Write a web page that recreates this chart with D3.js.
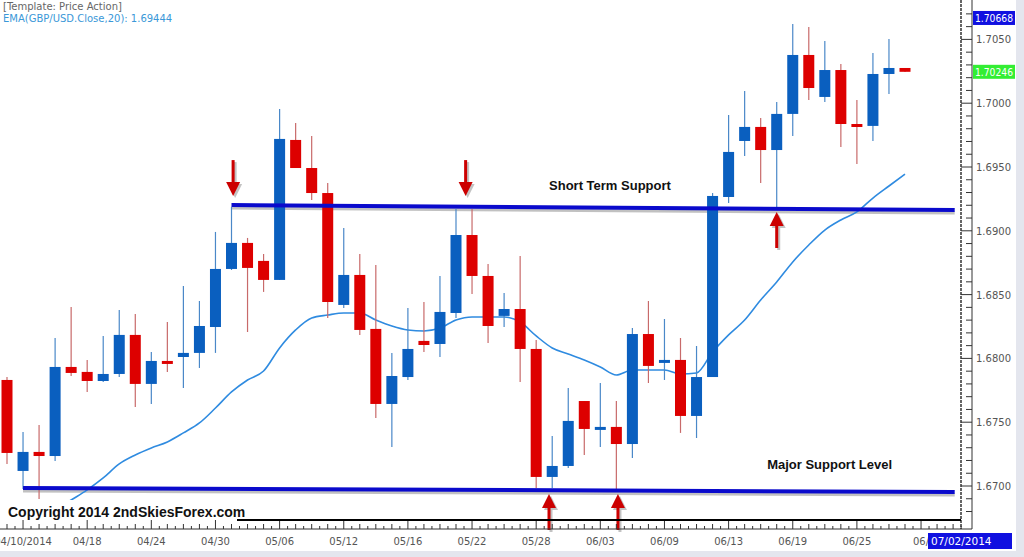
<!DOCTYPE html>
<html><head><meta charset="utf-8">
<script src="https://cdn.jsdelivr.net/npm/d3@7"></script>
<style>body{margin:0;background:#fff}svg{display:block}</style>
</head><body>
<svg id="c" width="1024" height="557"></svg>
<script>
const opens = [1.67831,1.67118,1.67267,1.67235,1.67933,1.67894,1.67823,1.67878,1.68184,1.67800,1.67980,1.68011,1.68043,1.68246,1.68701,1.68905,1.68764,1.68615,1.69712,1.69492,1.69296,1.68419,1.68654,1.68231,1.67643,1.67854,1.68137,1.68113,1.68356,1.68967,1.68646,1.68333,1.68387,1.68074,1.67071,1.67157,1.67666,1.67447,1.67463,1.67329,1.68191,1.67980,1.67988,1.67549,1.67854,1.69265,1.69704,1.69814,1.69633,1.69916,1.70378,1.70049,1.70260,1.69837,1.69822,1.70229,1.70276];
const highs = [1.67854,1.67423,1.67478,1.68160,1.68403,1.67988,1.68176,1.68380,1.68348,1.68050,1.68285,1.68568,1.68450,1.68991,1.69187,1.68944,1.68818,1.69955,1.69845,1.69743,1.69375,1.69022,1.68818,1.68732,1.68043,1.68395,1.68442,1.68646,1.69171,1.69171,1.68740,1.68513,1.68803,1.68144,1.67392,1.67768,1.67666,1.67807,1.67666,1.68238,1.68450,1.68309,1.68160,1.68097,1.69296,1.69908,1.70096,1.69884,1.70010,1.70621,1.70597,1.70488,1.70307,1.70025,1.70394,1.70503,1.70276];
const lows = [1.67173,1.66977,1.66898,1.67196,1.67862,1.67737,1.67815,1.67854,1.67619,1.67643,1.67894,1.67768,1.67925,1.68043,1.68693,1.68207,1.68521,1.68615,1.69492,1.69242,1.68317,1.68395,1.68184,1.67533,1.67306,1.67831,1.68050,1.68011,1.68317,1.68505,1.68121,1.68246,1.67815,1.66985,1.66985,1.67141,1.67243,1.67306,1.66969,1.67220,1.67807,1.67831,1.67416,1.67376,1.67854,1.69218,1.69586,1.69375,1.69187,1.69743,1.70025,1.70010,1.69657,1.69524,1.69704,1.70072,1.70245];
const closes = [1.67259,1.67267,1.67235,1.67933,1.67886,1.67823,1.67878,1.68184,1.67800,1.67980,1.67964,1.68043,1.68254,1.68701,1.68905,1.68709,1.68615,1.69720,1.69492,1.69296,1.68442,1.68654,1.68223,1.67643,1.67862,1.68074,1.68105,1.68364,1.68967,1.68646,1.68254,1.68387,1.68074,1.67071,1.67157,1.67510,1.67447,1.67463,1.67329,1.68191,1.67941,1.67988,1.67549,1.67854,1.69273,1.69618,1.69814,1.69633,1.69916,1.70378,1.70119,1.70260,1.69837,1.69822,1.70229,1.70276,1.70246];
const ema20 = [null,null,null,1.66812,1.66890,1.66969,1.67063,1.67173,1.67243,1.67298,1.67345,1.67416,1.67494,1.67611,1.67737,1.67831,1.67901,1.68082,1.68223,1.68317,1.68340,1.68356,1.68356,1.68301,1.68254,1.68223,1.68215,1.68238,1.68301,1.68325,1.68325,1.68325,1.68285,1.68176,1.68082,1.68035,1.67988,1.67933,1.67870,1.67909,1.67909,1.67909,1.67878,1.67886,1.68050,1.68184,1.68301,1.68458,1.68599,1.68756,1.68889,1.69006,1.69085,1.69148,1.69257,1.69351,1.69444];
const tickLabels = ["04/10/2014","04/18","04/24","04/30","05/06","05/12","05/16","05/22","05/28","06/03","06/09","06/13","06/19","06/25","06/"];
const tickIndex = [1,5,9,13,17,21,25,29,33,37,41,45,49,53,57];
const priceTicks = [1.6700,1.6750,1.6800,1.6850,1.6900,1.6950,1.7000,1.7050];
const highMark = 1.70668;
const supportLines = [{s:14,p1:1.69202,e:59.1,p2:1.69163},{s:1,p1:1.66985,e:59.1,p2:1.66953}];
const downArrows = [{i:14.1,p:1.69225},{i:28.6,p:1.69225}];
const upArrows = [{i:33.8,p:1.66953},{i:38.1,p:1.66953},{i:48,p:1.69163}];
const labels = [{t:"Short Term Support",i:37.6,p:1.69320},{t:"Major Support Level",i:51.3,p:1.67133}];

const svg = d3.select("#c");
const x = d3.scaleLinear().domain([0,56]).range([7,905]);
const y = d3.scaleLinear().domain([1.6700,1.7050]).range([486,39.4]);
const blue="#0a5fbf", red="#dd0000";

svg.append("rect").attr("x",0).attr("y",551).attr("width",1024).attr("height",6).attr("fill","#e4e6ee");
svg.append("rect").attr("x",1016).attr("y",0).attr("width",8).attr("height",557).attr("fill","#e4e6ee");

const plot = svg.append("g");
supportLines.forEach(l=>{
  plot.append("line").attr("x1",x(l.s)).attr("x2",x(l.e)).attr("y1",y(l.p1)+3).attr("y2",y(l.p2)+3)
    .attr("stroke","#999").attr("stroke-width",3).attr("opacity",0.6);
});
plot.append("path").datum(ema20.map((v,i)=>[i,v]).filter(d=>d[1]!==null))
  .attr("d",d3.line().x(d=>x(d[0])).y(d=>y(d[1])).curve(d3.curveMonotoneX))
  .attr("fill","none").attr("stroke","#2f8be0").attr("stroke-width",1.6);
d3.range(opens.length).forEach(i=>{
  const up = closes[i]>=opens[i];
  plot.append("line").attr("x1",x(i)).attr("x2",x(i)).attr("y1",y(highs[i])).attr("y2",y(lows[i]))
    .attr("stroke",up?"#4a88c8":"#c86a6a").attr("stroke-width",1.2);
  const top=y(Math.max(opens[i],closes[i])), bot=y(Math.min(opens[i],closes[i]));
  plot.append("rect").attr("x",x(i)-5.5).attr("width",11).attr("y",top).attr("height",Math.max(bot-top,3)).attr("fill",up?blue:red);
});
supportLines.forEach(l=>{
  plot.append("line").attr("x1",x(l.s)).attr("x2",x(l.e)).attr("y1",y(l.p1)).attr("y2",y(l.p2))
    .attr("stroke","#0a0acc").attr("stroke-width",4);
});
function arrow(cx,tipY,dir){
  const g=plot.append("g");
  const sh=g.append("g").attr("transform","translate(2,2)").attr("opacity",0.35);
  [sh,g].forEach((gg,k)=>{
    gg.append("rect").attr("x",cx-1.5).attr("width",3).attr("y",dir>0?tipY-36:tipY+12).attr("height",24).attr("fill",k?"#cc0000":"#555");
    gg.append("path").attr("d",`M${cx-7},${tipY-dir*14}L${cx+7},${tipY-dir*14}L${cx},${tipY}Z`).attr("fill",k?"#cc0000":"#555");
  });
}
downArrows.forEach(a=>arrow(x(a.i),y(a.p)-6,1));
upArrows.forEach(a=>arrow(x(a.i),y(a.p)+2,-1));
labels.forEach(l=>{
  svg.append("text").attr("x",x(l.i)).attr("y",y(l.p)).attr("text-anchor","middle")
    .attr("font-family","Liberation Sans, Arial").attr("font-weight","bold").attr("font-size",13).attr("fill","#111").text(l.t);
});

svg.append("line").attr("x1",961).attr("x2",961).attr("y1",0).attr("y2",529).attr("stroke","#000").attr("stroke-width",1.2).attr("stroke-dasharray","3,1");
svg.append("line").attr("x1",972).attr("x2",972).attr("y1",0).attr("y2",529).attr("stroke","#333").attr("stroke-width",1);
d3.range(1.6680,1.7070,0.001).forEach(v=>{
  const major = Math.abs(Math.round(v*200)-v*200)<1e-6;
  svg.append("line").attr("x1",major?961:966).attr("x2",972).attr("y1",y(v)).attr("y2",y(v)).attr("stroke","#333");
});
priceTicks.forEach(v=>{
  svg.append("text").attr("x",976).attr("y",y(v)+4).attr("font-family","Verdana, DejaVu Sans").attr("font-size",10).attr("fill","#555").text(v.toFixed(4));
});
function box(v,bg){
  svg.append("rect").attr("x",973).attr("y",y(v)-7).attr("width",42).attr("height",14).attr("fill",bg);
  svg.append("text").attr("x",975).attr("y",y(v)+4).attr("font-family","Verdana, DejaVu Sans").attr("font-size",10)
    .attr("textLength",38).attr("lengthAdjust","spacingAndGlyphs").attr("fill","#fff").text(v.toFixed(5));
}
box(highMark,"#1010e0"); box(closes[closes.length-1],"#33ee33");

svg.append("line").attr("x1",0).attr("x2",972).attr("y1",529).attr("y2",529).attr("stroke","#333");
d3.range(0,60).forEach(i=>{
  const major = tickIndex.includes(i);
  svg.append("line").attr("x1",x(i)).attr("x2",x(i)).attr("y1",major?519:524).attr("y2",529).attr("stroke","#333");
  svg.append("line").attr("x1",x(i)+8).attr("x2",x(i)+8).attr("y1",526).attr("y2",529).attr("stroke","#333");
});
tickIndex.forEach((ti,k)=>{
  svg.append("text").attr("x",x(ti)).attr("y",545).attr("text-anchor","middle").attr("font-family","Verdana, DejaVu Sans").attr("font-size",10).attr("fill","#555").text(tickLabels[k]);
});
svg.append("rect").attr("x",928).attr("y",533).attr("width",84).attr("height",16).attr("fill","#1010e0");
svg.append("text").attr("x",931).attr("y",545).attr("font-family","Verdana, DejaVu Sans").attr("font-size",10.5).attr("fill","#fff").text("07/02/2014");
svg.append("line").attr("x1",237).attr("x2",961).attr("y1",520).attr("y2",520).attr("stroke","#000").attr("stroke-width",2);
svg.append("rect").attr("x",0).attr("y",500).attr("width",236).attr("height",20).attr("fill","#fff");
svg.append("text").attr("x",8).attr("y",517).attr("font-family","Liberation Sans Narrow, Arial Narrow, Liberation Sans").attr("font-weight","bold").attr("font-size",14).attr("fill","#111").text("Copyright 2014 2ndSkiesForex.com");
svg.append("text").attr("x",3).attr("y",10).attr("font-family","Verdana, DejaVu Sans").attr("font-size",10).attr("fill","#666").text("[Template: Price Action]");
svg.append("text").attr("x",3).attr("y",22).attr("font-family","Verdana, DejaVu Sans").attr("font-size",10).attr("fill","#3a98d8").text("EMA(GBP/USD.Close,20): "+ema20[ema20.length-1].toFixed(5));
</script>
</body></html>
